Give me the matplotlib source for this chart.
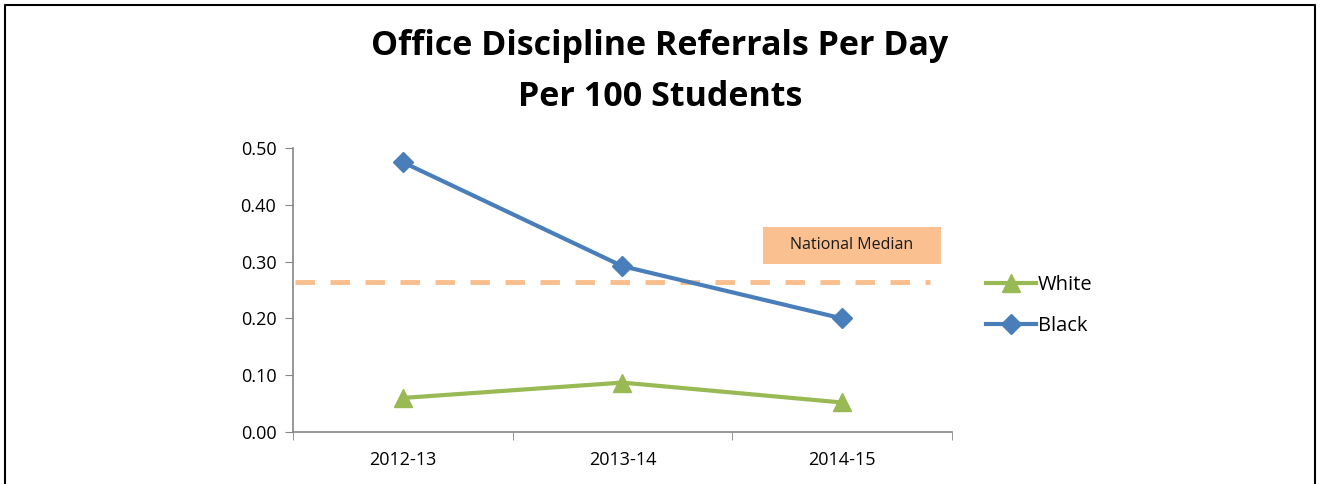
import matplotlib.pyplot as plt
from matplotlib.lines import Line2D
from matplotlib.patches import Rectangle

# ─── data ────────────────────────────────────────────────────────────────────
years = ["2012-13", "2013-14", "2014-15"]
white = [0.060, 0.087, 0.052]
black = [0.475, 0.292, 0.200]
national_median = 0.264
yticks = [0.0, 0.1, 0.2, 0.3, 0.4, 0.5]

plt.rcParams["font.family"] = ["Open Sans", "DejaVu Sans"]

fig = plt.figure(figsize=(13.2, 4.84), dpi=100)
ax = fig.add_axes([0.222, 0.1074, 0.499, 0.5868])

x = list(range(len(years)))
ax.plot(x, white, color="#98B954", lw=3, marker="^", ms=13, label="White")
ax.plot(x, black, color="#4A7EBB", lw=3, marker="D", ms=10, label="Black")

# national median dashed line + label box
ax.plot([-0.49, 2.4], [national_median] * 2, color="#F9BE8E", lw=3.5,
        ls=(0, (4, 3.2)), zorder=1)
ax.add_patch(Rectangle((1.64, 0.295), 0.81, 0.066, facecolor="#FAC090",
                       edgecolor="none", zorder=0))
ax.text(2.045, 0.329, "National Median", ha="center", va="center",
        fontsize=11.5, color="#1a1a1a")

ax.set_xlim(-0.5, 2.5)
ax.set_ylim(0, 0.5)
ax.set_yticks(yticks)
ax.set_yticklabels([f"{v:.2f}" for v in yticks])
ax.set_xticks(x)
ax.set_xticklabels(years)
ax.set_xticks([-0.5, 0.5, 1.5, 2.5], minor=True)
ax.tick_params(axis="x", which="major", length=0, pad=14, labelsize=13)
ax.tick_params(axis="x", which="minor", length=6, color="#868686")
ax.tick_params(axis="y", length=6, color="#868686", labelsize=13, pad=6)

for s in ["top", "right"]:
    ax.spines[s].set_visible(False)
for s in ["left", "bottom"]:
    ax.spines[s].set_color("#868686")
    ax.spines[s].set_linewidth(1.2)

handles, labels = ax.get_legend_handles_labels()
fig.legend(handles, labels, loc="center left", bbox_to_anchor=(0.733, 0.369),
           frameon=False, fontsize=14.5, handlelength=2.5, handletextpad=0.1,
           labelspacing=1.05)

fig.text(0.5, 0.905, "Office Discipline Referrals Per Day", ha="center",
         va="center", fontsize=24.5, fontweight="bold")
fig.text(0.5, 0.800, "Per 100 Students", ha="center", va="center",
         fontsize=24.5, fontweight="bold")

# outer frame (left, top, right)
fl, fr, ft = 5 / 1320, 1315 / 1320, 1 - 5 / 484
fig.add_artist(Line2D([fl, fl, fr, fr], [0, ft, ft, 0], color="black", lw=1.5,
                      transform=fig.transFigure))

fig.savefig("out.png", dpi=100)
